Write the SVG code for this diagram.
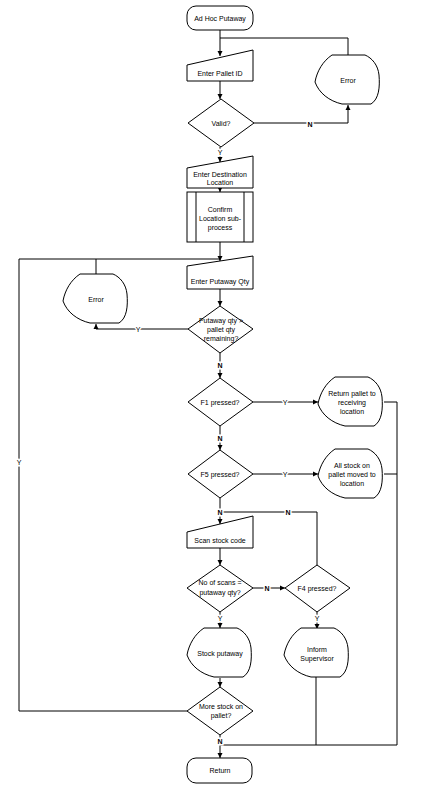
<svg xmlns="http://www.w3.org/2000/svg" width="433" height="797" viewBox="0 0 433 797">
<style>
.s{fill:#fff;stroke:#000;stroke-width:1}
.c{fill:none;stroke:#000;stroke-width:1}
text{font-family:"Liberation Sans",Arial,sans-serif;font-size:7px;fill:#000;text-anchor:middle}
.l{stroke:#fff;stroke-width:3;paint-order:stroke}
</style>
<defs>
<marker id="a" markerWidth="6" markerHeight="6" refX="5" refY="3" orient="auto" markerUnits="userSpaceOnUse">
<path d="M0,0.5 L5,3 L0,5.5 Z" fill="#000"/>
</marker>
<path id="disp" d="M17,0 L50,0 C57,3 63,10 64,20 C65,32 64,44 56,49 L27,49 C14,46 4,38 0,27 C2,16 8,6 17,0 Z"/>
</defs>
<rect width="433" height="797" fill="#fff"/>
<g id="connectors">
<path class="c" d="M220,30 V56" marker-end="url(#a)"/>
<path class="c" d="M348,55 V38 H220"/>
<path class="c" d="M220,81 V99" marker-end="url(#a)"/>
<path class="c" d="M254,123 H348 V105" marker-end="url(#a)"/>
<path class="c" d="M220,147 V162" marker-end="url(#a)"/>
<path class="c" d="M220,188 V192" marker-end="url(#a)"/>
<path class="c" d="M220,242 V261" marker-end="url(#a)"/>
<path class="c" d="M96,274 V259"/>
<path class="c" d="M187,711 H19 V259 H220"/>
<path class="c" d="M220,289 V306" marker-end="url(#a)"/>
<path class="c" d="M188,329 H96 V324" marker-end="url(#a)"/>
<path class="c" d="M220,353 V378" marker-end="url(#a)"/>
<path class="c" d="M253,402 H318" marker-end="url(#a)"/>
<path class="c" d="M220,426 V450" marker-end="url(#a)"/>
<path class="c" d="M253,474 H318" marker-end="url(#a)"/>
<path class="c" d="M220,498 V524" marker-end="url(#a)"/>
<path class="c" d="M317,565 V512 H220"/>
<path class="c" d="M220,548 V565" marker-end="url(#a)"/>
<path class="c" d="M253,588 H285" marker-end="url(#a)"/>
<path class="c" d="M220,612 V628" marker-end="url(#a)"/>
<path class="c" d="M317,612 V629" marker-end="url(#a)"/>
<path class="c" d="M220,678 V687" marker-end="url(#a)"/>
<path class="c" d="M220,735 V758" marker-end="url(#a)"/>
<path class="c" d="M316,677 V745 H220"/>
<path class="c" d="M384,402 H397 V745 H316"/>
<path class="c" d="M384,474 H397"/>
<text class="l" x="310" y="126.5" font-weight="bold">N</text>
<text class="l" x="220" y="155">Y</text>
<text class="l" x="138" y="331.5">Y</text>
<text class="l" x="220" y="367.5" font-weight="bold">N</text>
<text class="l" x="285" y="404.5">Y</text>
<text class="l" x="220" y="440.5" font-weight="bold">N</text>
<text class="l" x="285" y="476.5">Y</text>
<text class="l" x="220" y="514.5" font-weight="bold">N</text>
<text class="l" x="288" y="514.5" font-weight="bold">N</text>
<text class="l" x="267" y="590.5" font-weight="bold">N</text>
<text class="l" x="220" y="620.5">Y</text>
<text class="l" x="317" y="620.5">Y</text>
<text class="l" x="19" y="464.5">Y</text>
<text class="l" x="220" y="743.5" font-weight="bold">N</text>
</g>
<g id="start">
<rect class="s" x="187" y="6" width="66" height="24" rx="9"/>
<text x="220" y="20.5">Ad Hoc Putaway</text>
</g>
<g id="enterPallet">
<path class="s" d="M187,65 L253,50 V81 H187 Z"/>
<text x="220" y="75.5">Enter Pallet ID</text>
</g>
<g id="error1">
<use href="#disp" class="s" x="315" y="55"/>
<text x="348" y="82.5">Error</text>
</g>
<g id="valid">
<path class="s" d="M221,99 L254,123 L221,147 L188,123 Z"/>
<text x="221" y="125.5">Valid?</text>
</g>
<g id="enterDest">
<path class="s" d="M187,168 L253,156 V188 H187 Z"/>
<text x="220" y="176.5">Enter Destination</text>
<text x="220" y="185">Location</text>
</g>
<g id="confirm">
<rect class="s" x="187" y="192" width="66" height="50"/>
<path class="c" d="M196,192 V242 M244,192 V242"/>
<text x="220" y="211.5">Confirm</text>
<text x="220" y="220.5">Location sub-</text>
<text x="220" y="229.5">process</text>
</g>
<g id="enterQty">
<path class="s" d="M187,266 L253,256 V289 H187 Z"/>
<text x="220" y="283.5">Enter Putaway Qty</text>
</g>
<g id="error2">
<use href="#disp" class="s" x="63" y="274"/>
<text x="96" y="301.5">Error</text>
</g>
<g id="qtyCheck">
<path class="s" d="M220,306 L253,329 L220,353 L188,329 Z"/>
<text x="221" y="323">Putaway qty &gt;</text>
<text x="221" y="332">pallet qty</text>
<text x="221" y="341">remaining?</text>
</g>
<g id="f1">
<path class="s" d="M220,378 L253,402 L220,426 L188,402 Z"/>
<text x="220" y="404.5">F1 pressed?</text>
</g>
<g id="returnPallet">
<use href="#disp" class="s" x="318" y="377"/>
<text x="352" y="396">Return pallet to</text>
<text x="352" y="405">receiving</text>
<text x="352" y="414">location</text>
</g>
<g id="f5">
<path class="s" d="M220,450 L253,474 L220,498 L188,474 Z"/>
<text x="220" y="476.5">F5 pressed?</text>
</g>
<g id="allStock">
<use href="#disp" class="s" x="318" y="449"/>
<text x="352" y="468">All stock on</text>
<text x="352" y="477">pallet moved to</text>
<text x="352" y="486">location</text>
</g>
<g id="scan">
<path class="s" d="M187,532 L253,516 V548 H187 Z"/>
<text x="220" y="542.5">Scan stock code</text>
</g>
<g id="scansCheck">
<path class="s" d="M220,565 L253,588 L220,612 L187,588 Z"/>
<text x="220" y="585">No of scans =</text>
<text x="220" y="594.5">putaway qty?</text>
</g>
<g id="f4">
<path class="s" d="M317,565 L350,588 L317,612 L285,588 Z"/>
<text x="317" y="590.5">F4 pressed?</text>
</g>
<g id="stockPutaway">
<use href="#disp" class="s" x="187" y="628"/>
<text x="220" y="655.5">Stock putaway</text>
</g>
<g id="inform">
<use href="#disp" class="s" x="284" y="628"/>
<text x="317" y="651.5">Inform</text>
<text x="317" y="661">Supervisor</text>
</g>
<g id="moreStock">
<path class="s" d="M220,687 L253,711 L220,735 L187,711 Z"/>
<text x="221" y="708.5">More stock on</text>
<text x="221" y="717.5">pallet?</text>
</g>
<g id="end">
<rect class="s" x="187" y="758" width="65" height="25" rx="9"/>
<text x="220" y="772.5">Return</text>
</g>
</svg>
